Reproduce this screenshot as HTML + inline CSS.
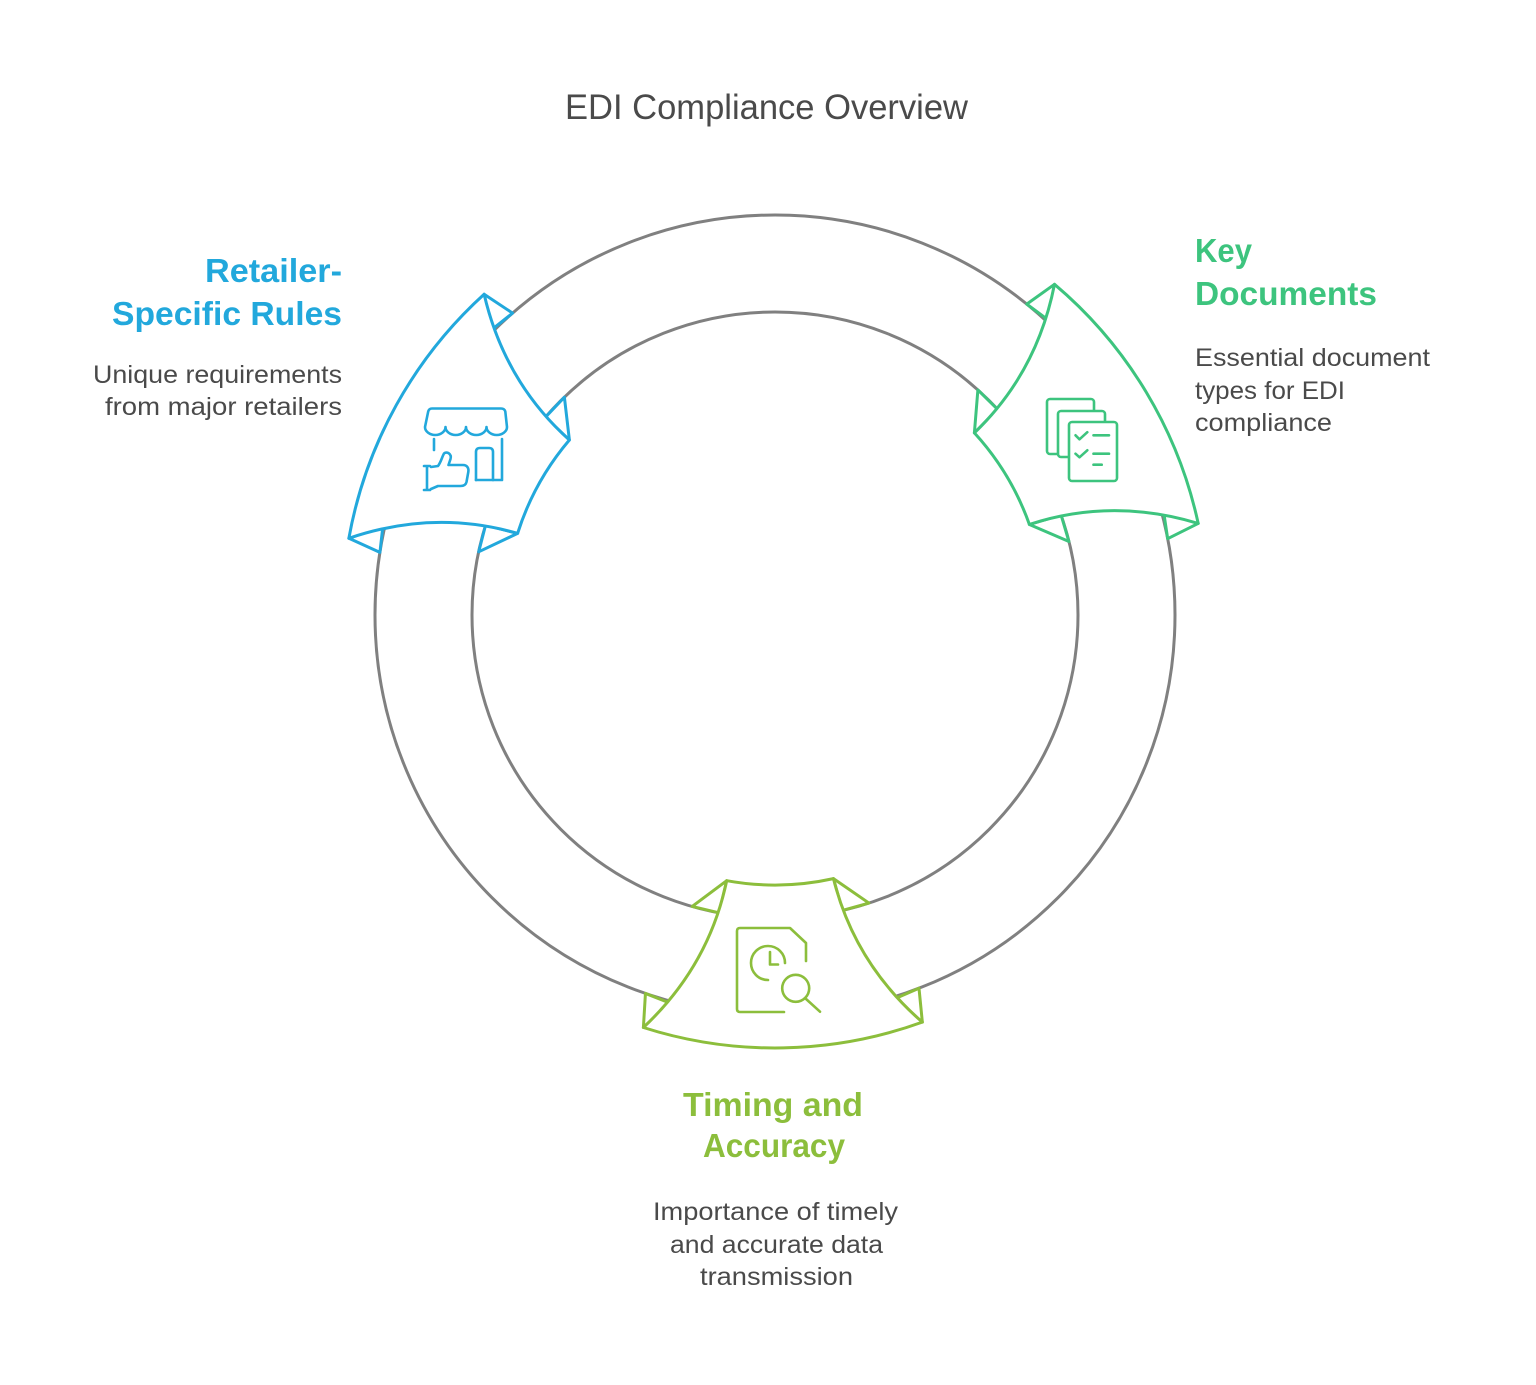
<!DOCTYPE html>
<html>
<head>
<meta charset="utf-8">
<style>
  html,body{margin:0;padding:0;background:#ffffff;}
  body{width:1536px;height:1385px;overflow:hidden;}
  svg{display:block;}
  text{font-family:"Liberation Sans", Arial, sans-serif;}
</style>
</head>
<body>
<svg width="1536" height="1385" viewBox="0 0 1536 1385" xmlns="http://www.w3.org/2000/svg">
  <rect width="1536" height="1385" fill="#ffffff"/>

  <!-- Title -->
  <text x="565" y="119" font-size="35" fill="#4a4a4a" textLength="403" lengthAdjust="spacingAndGlyphs">EDI Compliance Overview</text>

  <!-- Ring -->
  <circle cx="775" cy="615" r="400" fill="none" stroke="#808080" stroke-width="3"/>
  <circle cx="775" cy="615" r="303" fill="none" stroke="#808080" stroke-width="3"/>

  <!-- Bottom fan (lime) -->
  <g transform="rotate(-1.1 775 615)" fill="#ffffff" stroke="#8cbe3c" stroke-width="3" stroke-linejoin="round">
    <polygon points="686.6,904.8 721.6,879.7 713.3,911.7"/>
    <polygon points="638.2,990.9 635.5,1024.9 662.6,1001.0"/>
    <polygon points="863.4,904.8 828.4,879.7 836.7,911.7"/>
    <polygon points="911.8,990.9 914.5,1024.9 887.4,1001.0"/>
    <path d="M721.6,879.7 A270,270 0 0 0 828.4,879.7 Q847.75,964.5 914.5,1024.9 A433,433 0 0 1 635.5,1024.9 Q702.25,964.5 721.6,879.7 Z"/>
  </g>

  <!-- Top-left fan (blue) -->
  <g transform="rotate(119 775 615)" fill="#ffffff" stroke="#22a8dc" stroke-width="3" stroke-linejoin="round">
    <polygon points="686.6,904.8 721.6,879.7 713.3,911.7"/>
    <polygon points="638.2,990.9 635.5,1024.9 662.6,1001.0"/>
    <polygon points="863.4,904.8 828.4,879.7 836.7,911.7"/>
    <polygon points="911.8,990.9 914.5,1024.9 887.4,1001.0"/>
    <path d="M721.6,879.7 A270,270 0 0 0 828.4,879.7 Q847.75,964.5 914.5,1024.9 A433,433 0 0 1 635.5,1024.9 Q702.25,964.5 721.6,879.7 Z"/>
  </g>

  <!-- Top-right fan (green) -->
  <g transform="rotate(239 775 615)" fill="#ffffff" stroke="#3dc47e" stroke-width="3" stroke-linejoin="round">
    <polygon points="686.6,904.8 721.6,879.7 713.3,911.7"/>
    <polygon points="638.2,990.9 635.5,1024.9 662.6,1001.0"/>
    <polygon points="863.4,904.8 828.4,879.7 836.7,911.7"/>
    <polygon points="911.8,990.9 914.5,1024.9 887.4,1001.0"/>
    <path d="M721.6,879.7 A270,270 0 0 0 828.4,879.7 Q847.75,964.5 914.5,1024.9 A433,433 0 0 1 635.5,1024.9 Q702.25,964.5 721.6,879.7 Z"/>
  </g>

  <!-- Blue icon: store + thumbs up -->
  <g fill="none" stroke="#22a8dc" stroke-width="2.6" stroke-linecap="round" stroke-linejoin="round">
    <path d="M432,408.5 H501 Q504.5,408.5 505.3,411.5 L507,427 A10.25,8 0 0 1 486.5,427 A10.25,8 0 0 1 466,427 A10.25,8 0 0 1 445.5,427 A10.25,8 0 0 1 425,427 L428.2,411.5 Q429,408.5 432,408.5 Z"/>
    <path d="M434,439 V450"/>
    <path d="M502,439 V480 H476"/>
    <path d="M476,480 V452 Q476,448 480,448 H489 Q493,448 493,452 V480"/>
    <path d="M424,466 H430 M427,466 V490 M424,490 H430"/>
    <path d="M431,467 L438,466 C441,462 442,457 444,453.5 C447,451 452,454 450.5,459 L448.5,465 L463,465 C467,465 469,468 468.3,472 L466.5,482 C465.8,485 463.5,486 460.5,486 L438,486 L431,489"/>
  </g>

  <!-- Green icon: stacked documents -->
  <g fill="#ffffff" stroke="#3dc47e" stroke-width="2.6" stroke-linecap="round" stroke-linejoin="round">
    <rect x="1047" y="399" width="47" height="55" rx="3"/>
    <rect x="1058" y="411" width="47" height="46" rx="3"/>
    <rect x="1069" y="422" width="48" height="59" rx="3"/>
    <path fill="none" d="M1075.5,435.3 L1079.5,439.3 L1087.3,432.2"/>
    <path fill="none" d="M1093.5,435.3 H1109"/>
    <path fill="none" d="M1075.5,453.7 L1079.5,457.3 L1087.3,450.3"/>
    <path fill="none" d="M1093.5,453.7 H1109"/>
    <path fill="none" d="M1093.5,464.7 H1101.7"/>
  </g>

  <!-- Lime icon: document with clock + magnifier -->
  <g fill="none" stroke="#8cbe3c" stroke-width="2.6" stroke-linecap="round" stroke-linejoin="round">
    <path d="M784,1012 H740 Q737,1012 737,1009 V931 Q737,928 740,928 H790 L806,943 V961"/>
    <path d="M785,963 A17,17 0 1 0 768,980"/>
    <path d="M770,952 V964.5 H778"/>
    <circle cx="795.7" cy="988.3" r="13.5"/>
    <path d="M805.5,998.5 L820,1011.7"/>
  </g>

  <!-- Blue labels -->
  <text x="205" y="282" font-size="33" font-weight="bold" fill="#22a8dc" textLength="137" lengthAdjust="spacingAndGlyphs">Retailer-</text>
  <text x="112" y="325" font-size="33" font-weight="bold" fill="#22a8dc" textLength="230" lengthAdjust="spacingAndGlyphs">Specific Rules</text>
  <text x="93" y="383" font-size="25" fill="#4a4a4a" textLength="249" lengthAdjust="spacingAndGlyphs">Unique requirements</text>
  <text x="105" y="415" font-size="25" fill="#4a4a4a" textLength="237" lengthAdjust="spacingAndGlyphs">from major retailers</text>

  <!-- Green labels -->
  <text x="1195" y="262" font-size="33" font-weight="bold" fill="#3dc47e" textLength="57" lengthAdjust="spacingAndGlyphs">Key</text>
  <text x="1195" y="305" font-size="33" font-weight="bold" fill="#3dc47e" textLength="182" lengthAdjust="spacingAndGlyphs">Documents</text>
  <text x="1195" y="366" font-size="25" fill="#4a4a4a" textLength="235" lengthAdjust="spacingAndGlyphs">Essential document</text>
  <text x="1195" y="399" font-size="25" fill="#4a4a4a" textLength="150" lengthAdjust="spacingAndGlyphs">types for EDI</text>
  <text x="1195" y="431" font-size="25" fill="#4a4a4a" textLength="137" lengthAdjust="spacingAndGlyphs">compliance</text>

  <!-- Lime labels -->
  <text x="683" y="1116" font-size="33" font-weight="bold" fill="#8cbe3c" textLength="180" lengthAdjust="spacingAndGlyphs">Timing and</text>
  <text x="703" y="1157" font-size="33" font-weight="bold" fill="#8cbe3c" textLength="142" lengthAdjust="spacingAndGlyphs">Accuracy</text>
  <text x="653" y="1220" font-size="25" fill="#4a4a4a" textLength="245" lengthAdjust="spacingAndGlyphs">Importance of timely</text>
  <text x="670" y="1253" font-size="25" fill="#4a4a4a" textLength="213" lengthAdjust="spacingAndGlyphs">and accurate data</text>
  <text x="700" y="1285" font-size="25" fill="#4a4a4a" textLength="153" lengthAdjust="spacingAndGlyphs">transmission</text>
</svg>
</body>
</html>
